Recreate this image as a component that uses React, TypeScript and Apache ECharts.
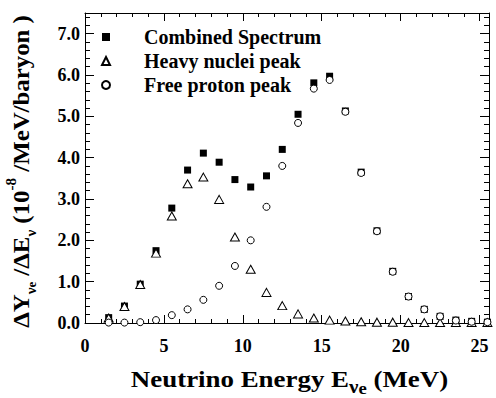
import React, { useEffect, useRef } from "react";
import * as echarts from "echarts";

const energies = [1.5, 2.5, 3.5, 4.5, 5.5, 6.5, 7.5, 8.5, 9.5, 10.5, 11.5, 12.5, 13.5, 14.5, 15.5, 16.5, 17.5, 18.5, 19.5, 20.5, 21.5, 22.5, 23.5, 24.5, 25.5];
const combined = [0.13, 0.41, 0.94, 1.75, 2.78, 3.7, 4.11, 3.89, 3.47, 3.29, 3.56, 4.2, 5.05, 5.81, 5.97, 5.13, 3.65, 2.23, 1.25, 0.64, 0.33, 0.16, 0.07, 0.04, 0.02];
const heavy = [0.12, 0.4, 0.93, 1.69, 2.59, 3.37, 3.53, 2.99, 2.08, 1.3, 0.74, 0.42, 0.22, 0.12, 0.07, 0.05, 0.03, 0.02, 0.02, 0.01, 0.01, 0.01, 0.01, 0.01, 0.01];
const freeProton = [0.01, 0.01, 0.02, 0.07, 0.19, 0.33, 0.56, 0.9, 1.38, 2.0, 2.81, 3.8, 4.84, 5.67, 5.88, 5.11, 3.63, 2.22, 1.24, 0.64, 0.33, 0.16, 0.06, 0.03, 0.02];
const seriesNames = ["Combined Spectrum", "Heavy nuclei peak", "Free proton peak"];

const FONT = "Liberation Serif";
const X_MIN = 0, X_MAX = 25.6, Y_MIN = 0, Y_MAX = 7.5;

function pairs(ys: number[]) {
  return energies.map((x, i) => [x, ys[i]]);
}

const labelFont = { color: "#000", fontSize: 18, fontWeight: "bold", fontFamily: FONT };

function xAx(position: string, interval: number, len: number, line: boolean, labels: boolean) {
  return {
    type: "value", min: X_MIN, max: X_MAX, interval, position,
    axisLine: { show: line, onZero: false, lineStyle: { color: "#000", width: 1 } },
    axisTick: { show: true, inside: true, length: len, lineStyle: { color: "#000", width: 1 } },
    axisLabel: {
      show: labels, margin: 14, ...labelFont,
      rich: { t: { ...labelFont } },
      formatter: (v: number) => (Math.abs(v % 5) < 1e-9 ? "{t|" + String(v) + "}" : ""),
    },
    splitLine: { show: false },
  };
}
function yAx(position: string, interval: number, len: number, line: boolean, labels: boolean) {
  return {
    type: "value", min: Y_MIN, max: Y_MAX, interval, position,
    axisLine: { show: line, onZero: false, lineStyle: { color: "#000", width: 1 } },
    axisTick: { show: true, inside: true, length: len, lineStyle: { color: "#000", width: 1 } },
    axisLabel: {
      show: labels, margin: 5, ...labelFont,
      rich: { t: { ...labelFont } },
      formatter: (v: number) => (Math.abs(v - Math.round(v)) < 1e-9 ? "{t|" + v.toFixed(1) + "}" : ""),
    },
    splitLine: { show: false },
  };
}

export default function App() {
  const ref = useRef<HTMLDivElement>(null);
  useEffect(() => {
    if (!ref.current) return;
    const chart = echarts.init(ref.current, null, { renderer: "svg" });
    const main = { fontSize: 23, fontWeight: "bold", fontFamily: FONT, lineHeight: 34, verticalAlign: "middle", fill: "#000" };
    const tok = (fontSize: number, lineHeight: number, va: string) => ({ fontSize, fontWeight: "bold", fontFamily: FONT, lineHeight, verticalAlign: va, fill: "#000" });
    chart.setOption({
      animation: false,
      backgroundColor: "#fff",
      textStyle: { fontFamily: FONT, fontWeight: "bold", color: "#000" },
      grid: { left: 85, right: 7, top: 13, bottom: 75, containLabel: false, outerBoundsMode: "none" },
      xAxis: [xAx("bottom", 5, 8, true, true), xAx("bottom", 1, 4, false, false), xAx("top", 5, 8, true, false), xAx("top", 1, 4, false, false)],
      yAxis: [yAx("left", 1, 9, true, true), yAx("left", 0.2, 5, false, false), yAx("right", 1, 9, true, false), yAx("right", 0.2, 5, false, false)],
      legend: {
        show: true, orient: "vertical", left: 101, top: 27, padding: 0, itemGap: 4, itemWidth: 8, itemHeight: 8,
        data: seriesNames,
        textStyle: { fontSize: 20, fontWeight: "bold", fontFamily: FONT, color: "#000", padding: [0, 0, 0, 29] },
      },
      graphic: [
        {
          type: "text", x: 21, y: 171.5, rotation: Math.PI / 2, scaleX: 1.08,
          style: {
            text: "{m|ΔY}{s|ν}{ss|e}{m| /ΔE}{s|ν}{m| (10}{sup|-8}{m| /MeV/baryon )}",
            align: "center", verticalAlign: "middle", fill: "#000",
            rich: { m: main, s: tok(14, 18, "bottom"), ss: tok(12, 6, "bottom"), sup: tok(14, 17, "top") },
          },
        },
        {
          type: "text", x: 289.5, y: 379, scaleX: 1.17,
          style: {
            text: "{m|Neutrino Energy E}{s|ν}{ss|e}{m| (MeV)}",
            align: "center", verticalAlign: "middle", fill: "#000",
            rich: { m: main, s: tok(18, 15, "bottom"), ss: tok(16, 4, "bottom") },
          },
        },
      ],
      series: [
        {
          name: seriesNames[0], type: "scatter", xAxisIndex: 0, yAxisIndex: 0, data: pairs(combined),
          symbol: "rect", symbolSize: 7, itemStyle: { color: "#000", opacity: 1 }, z: 2,
        },
        {
          name: seriesNames[1], type: "scatter", xAxisIndex: 0, yAxisIndex: 0, data: pairs(heavy),
          symbol: "triangle", symbolSize: [9, 8], itemStyle: { color: "#fff", borderColor: "#000", borderWidth: 1, opacity: 1 }, z: 3,
        },
        {
          name: seriesNames[2], type: "scatter", xAxisIndex: 0, yAxisIndex: 0, data: pairs(freeProton),
          symbol: "circle", symbolSize: 7, itemStyle: { color: "#fff", borderColor: "#000", borderWidth: 1, opacity: 1 }, z: 4,
        },
      ],
    });
    return () => chart.dispose();
  }, []);
  return <div ref={ref} style={{ width: 496, height: 398, position: "absolute", left: 0, top: 0 }} />;
}
